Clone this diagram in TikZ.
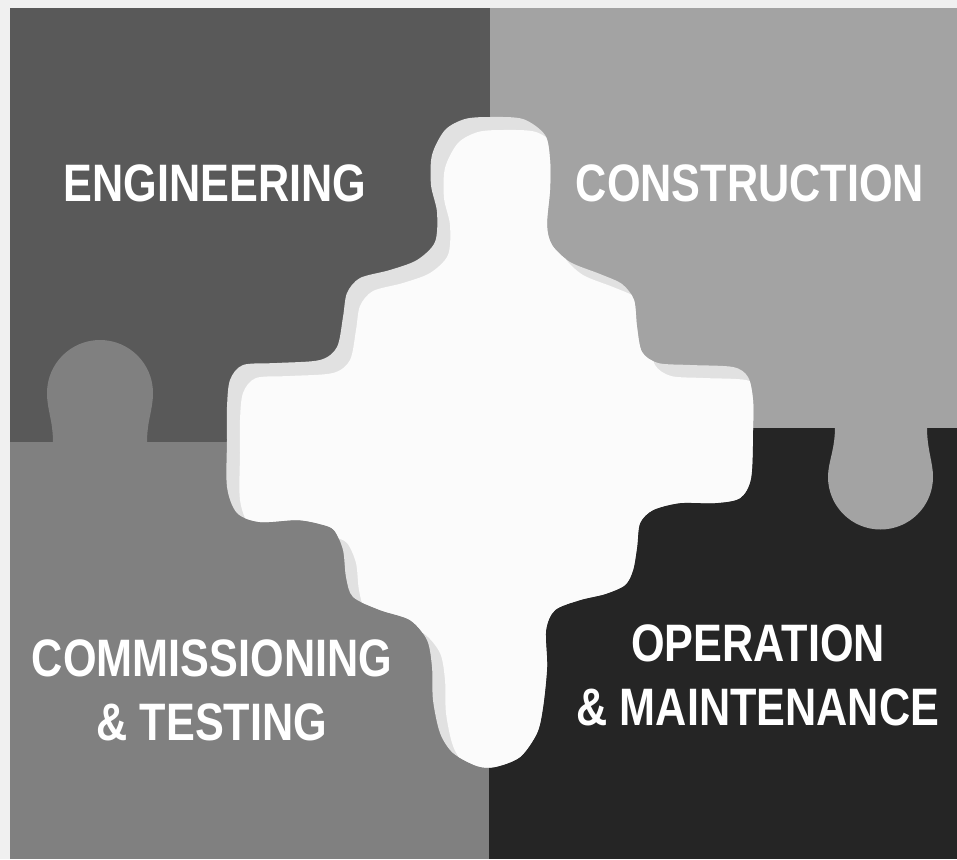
\documentclass[tikz,border=0pt]{standalone}
\usepackage{fontspec}
\newfontfamily\puzzlefont{Liberation Sans}[FakeStretch=0.82]
\usetikzlibrary{positioning}
\definecolor{marginbg}{RGB}{240,240,240}
\definecolor{engcol}{RGB}{89,89,89}
\definecolor{concol}{RGB}{163,163,163}
\definecolor{comcol}{RGB}{128,128,128}
\definecolor{opcol}{RGB}{37,37,37}
\definecolor{piecewhite}{RGB}{251,251,251}
\definecolor{pieceshade}{RGB}{225,225,225}
\def\centrepiece{plot[smooth cycle, tension=0.5] coordinates {
  (490,117) (523,119) (545,135) (550,160) (550,190) (547,225) (552,245) (570,262)
  (600,274) (622,284) (634,300) (637,327) (642,352) (658,363) (690,365) (733,367)
  (748,377) (753,400) (753,430) (751,478) (740,498) (715,503) (680,503) (653,510)
  (640,523) (637,547) (633,570) (625,585) (605,594) (580,600) (555,610) (546,630)
  (547,667) (543,707) (537,733) (520,757) (495,767) (477,766) (453,753) (440,733)
  (433,700) (432,667) (427,640) (410,620) (380,610) (353,597) (346,577) (343,550)
  (334,530) (320,524) (297,520) (260,522) (237,513) (227,487) (227,440) (227,407)
  (230,380) (243,365) (277,363) (320,360) (337,347) (343,317) (347,293) (360,278)
  (390,270) (417,260) (435,242) (437,212) (431,185) (432,155) (445,130) (465,119)}}

\begin{document}
\begin{tikzpicture}[x=0.02cm, y=-0.02cm,
  piecetext/.style={text=white, align=center, inner sep=0pt,
    font=\puzzlefont\bfseries\fontsize{30}{36.3}\selectfont}]
  \useasboundingbox (0,0) rectangle (957,859);
  \fill[marginbg] (0,0) rectangle (957,859);
  % quarters
  \fill[engcol] (10,8) rectangle (490,442);
  \fill[concol] (490,8) rectangle (957,428);
  \fill[comcol] (10,442) rectangle (489,859);
  \fill[opcol] (489,428) rectangle (957,859);
  % tabs
  \fill[comcol] (53,443) .. controls (53,420) and (47,410) .. (47,393) arc(180:360:53)
    .. controls (153,410) and (147,420) .. (147,443) -- cycle;
  \fill[concol] (835,427) .. controls (835,450) and (828,462) .. (828,477) arc(180:0:52.5)
    .. controls (933,462) and (927,450) .. (927,427) -- cycle;
  % centre piece
  \begin{scope}
    \clip \centrepiece;
    \fill[pieceshade] (200,100) rectangle (780,790);
    \fill[piecewhite, shift={(13,13)}] \centrepiece;
  \end{scope}
  \node[piecetext] (eng) at (215,183) {ENGINEERING};
  \node[piecetext] (con) at (750,183) {CONSTRUCTION};
  \node[piecetext] (com) at (212,690) {COMMISSIONING\\\& TESTING};
  \node[piecetext] (om) at (758,675) {OPERATION\\\& MAINTENANCE};
\end{tikzpicture}
\end{document}
